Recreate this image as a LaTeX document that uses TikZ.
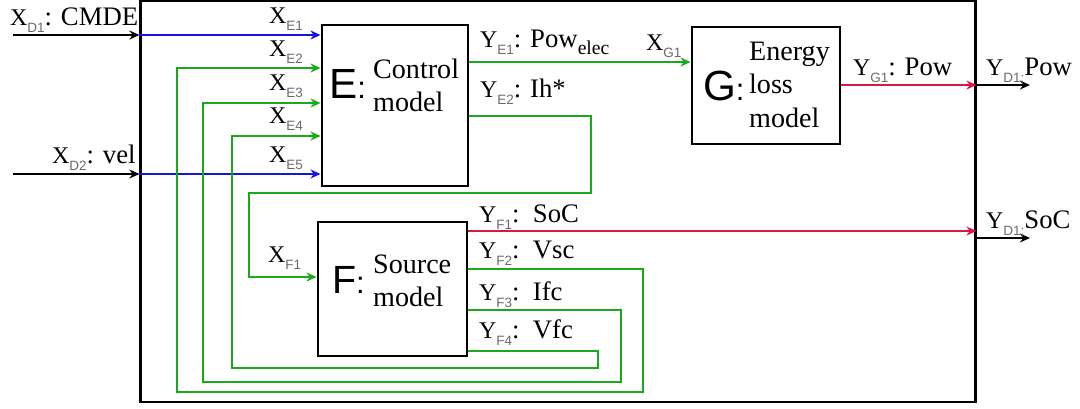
\documentclass[tikz,border=0pt]{standalone}
\usepackage{fontspec}
\setmainfont{Liberation Serif}
\setsansfont{Liberation Sans}
\usepackage{xcolor}
\usetikzlibrary{arrows.meta, positioning, calc}
\definecolor{sigblue}{RGB}{20,20,225}
\definecolor{siggreen}{RGB}{25,170,25}
\definecolor{sigred}{RGB}{215,25,65}
\definecolor{subgray}{RGB}{105,105,105}
\newcommand{\sg}[2]{{\fontsize{8.5}{9}\selectfont #1}\raisebox{-2.6pt}{\sffamily\fontsize{4.8}{5}\selectfont\color{subgray}#2}}
\newcommand{\blkletter}[2]{{\sffamily\fontsize{#2}{#2}\selectfont #1\fontsize{11}{11}\selectfont:}}
\newcommand{\blklines}[1]{\begin{tabular}[t]{@{}l@{}}#1\end{tabular}}
\tikzset{every picture/.append style={thick}}
\tikzset{
  blk/.style={draw, line width=1pt, inner sep=0pt},
  sigtxt/.style={anchor=base west, inner sep=0pt, font=\rmfamily\fontsize{9.5}{11}\selectfont},
  blktxt/.style={anchor=base west, inner sep=0pt, font=\rmfamily\fontsize{10}{12}\selectfont},
  ext/.style={-{Stealth[length=3.6pt,width=3.2pt]}, black},
  bsig/.style={ext, sigblue},
  gsig/.style={ext, siggreen},
  rsig/.style={ext, sigred},
}

\begin{document}
\begin{tikzpicture}[x=0.0125cm, y=-0.0125cm]
    \useasboundingbox (0,0) rectangle (1080,408);

    % blocks
    \node[blk, minimum width=10.425cm, minimum height=5.0125cm] (sys) at (558,201.5) {};
    \node[blk, minimum width=1.825cm, minimum height=2.0125cm] (E) at (395,105.5) {};
    \node[blk, minimum width=1.8625cm, minimum height=1.675cm] (F) at (392.5,289) {};
    \node[blk, minimum width=1.85cm, minimum height=1.4625cm] (G) at (766,85.5) {};

    \node[blktxt] (lE) at (328,98) {\blkletter{E}{15}};
    \node[blktxt] (tE) at (372,78) {\blklines{Control\\model}};
    \node[blktxt] (lF) at (331,293) {\blkletter{F}{14}};
    \node[blktxt] (tF) at (372,273) {\blklines{Source\\model}};
    \node[blktxt] (lG) at (702,100) {\blkletter{G}{15}};
    \node[blktxt] (tG) at (748,60) {\blklines{Energy\\loss\\model}};

    % end points outside
    \coordinate (xd1) at (13,35);
    \coordinate (xd2) at (13,174);
    \coordinate (ypow) at (1030,85);
    \coordinate (ysoc) at (1030,238);

    % inputs
    \draw[ext] (xd1) -- (sys.west |- xd1);
    \draw[ext] (xd2) -- (sys.west |- xd2);
    \draw[bsig] (sys.west |- xd1) -- (E.west |- xd1);
    \draw[bsig] (sys.west |- xd2) -- (E.west |- xd2);

    % feedback of F
    \draw[gsig] (F.east |- 0,269) -| (643,392) -| (177,68) -- (E.west |- 0,68);
    \draw[gsig] (F.east |- 0,310) -| (621,382) -| (203,103) -- (E.west |- 0,103);
    \draw[gsig] (F.east |- 0,351) -| (598,368) -| (232,136) -- (E.west |- 0,136);
    \draw[gsig] (E.east |- 0,116) -| (591,193) -| (249,277) -- (F.west |- 0,277);
    \draw[gsig] (E.east |- 0,62) -- (G.west |- 0,62);

    % outputs
    \draw[rsig] (G.east |- ypow) -- (sys.east |- ypow);
    \draw[ext] (sys.east |- ypow) -- (ypow);
    \draw[rsig] (F.east |- 0,231) -- (sys.east |- 0,231);
    \draw[ext] (sys.east |- ysoc) -- (ysoc);

    % labels
    \node[sigtxt] (nxd1) at (9,25) {\sg{X}{D1}: CMDE};
    \node[sigtxt] (nxd2) at (51,163) {\sg{X}{D2}: vel};
    \node[sigtxt] (nxe1) at (268,23) {\sg{X}{E1}};
    \node[sigtxt] (nxe2) at (268,56) {\sg{X}{E2}};
    \node[sigtxt] (nxe3) at (268,90) {\sg{X}{E3}};
    \node[sigtxt] (nxe4) at (268,123) {\sg{X}{E4}};
    \node[sigtxt] (nxe5) at (268,162) {\sg{X}{E5}};
    \node[sigtxt] (nxf1) at (267,262) {\sg{X}{F1}};
    \node[sigtxt] (nye1) at (479,47) {\sg{Y}{E1}: Pow\raisebox{-2.6pt}{\fontsize{7}{8}\selectfont elec}};
    \node[sigtxt] (nye2) at (479,97) {\sg{Y}{E2}: Ih*};
    \node[sigtxt] (nxg1) at (645,50) {\sg{X}{G1}};
    \node[sigtxt] (nyg1) at (852,75) {\sg{Y}{G1}: Pow};
    \node[sigtxt] (nydp) at (985,75) {\sg{Y}{D1;}Pow};
    \node[sigtxt] (nyf1) at (478,222) {\sg{Y}{F1}:\enspace SoC};
    \node[sigtxt] (nyf2) at (478,258) {\sg{Y}{F2}:\enspace Vsc};
    \node[sigtxt] (nyf3) at (478,300) {\sg{Y}{F3}:\enspace Ifc};
    \node[sigtxt] (nyf4) at (478,338) {\sg{Y}{F4}:\enspace Vfc};
    \node[sigtxt] (nyds) at (985,228) {\sg{Y}{D1;}SoC};
\end{tikzpicture}
\end{document}
